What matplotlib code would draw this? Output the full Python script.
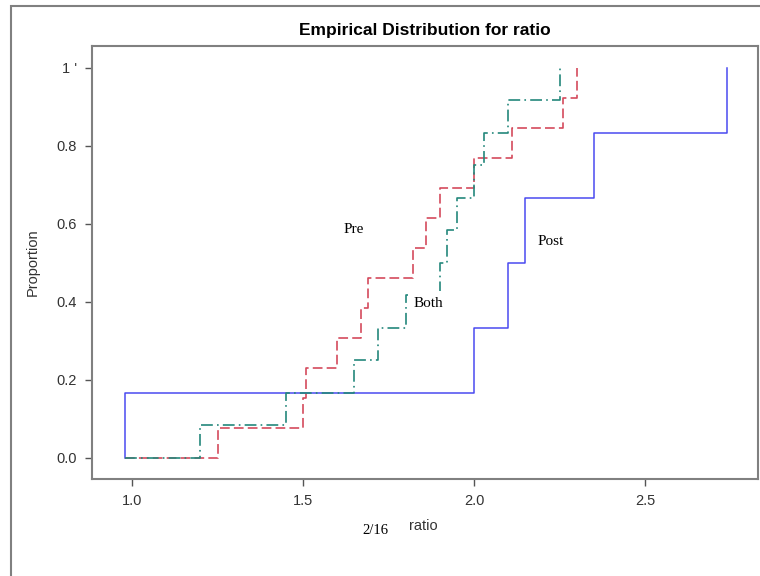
import numpy as np
import matplotlib
matplotlib.use("Agg")
import matplotlib.pyplot as plt
from matplotlib.patches import Rectangle

plt.rcParams['lines.scale_dashes'] = False

pre = [1.25, 1.5, 1.51, 1.6, 1.67, 1.69, 1.82, 1.86, 1.9, 2.0, 2.11, 2.26, 2.3]
both = [1.2, 1.45, 1.65, 1.72, 1.8, 1.9, 1.92, 1.95, 2.0, 2.03, 2.1, 2.25]
post = [0.98, 2.0, 2.1, 2.15, 2.35, 2.74]

xticks = [1.0, 1.5, 2.0, 2.5]
xticklabels = ["1.0", "1.5", "2.0", "2.5"]
yticks = [0.0, 0.2, 0.4, 0.6, 0.8, 1.0]
yticklabels = ["0.0", "0.2", "0.4", "0.6", "0.8", "1 '"]

sans = ['Liberation Sans Narrow', 'Liberation Sans', 'DejaVu Sans']
serif = ['Liberation Serif', 'DejaVu Serif']

xmin = min(pre + both + post)

def ecdf(vals):
    v = np.sort(np.array(vals))
    n = len(v)
    x = np.concatenate([[xmin], v])
    y = np.concatenate([[0.0], np.arange(1, n + 1) / n])
    return x, y

fig = plt.figure(figsize=(7.6, 5.76), dpi=100)
ax = fig.add_axes([92/760, 1 - 479/576, (758-92)/760, (479-46)/576])

# outer frame
fig.patches.append(Rectangle((11/760, -0.01), 1.0, 1 - 6/576 + 0.01, transform=fig.transFigure,
                             fill=False, edgecolor='#808080', linewidth=1.5))

x, y = ecdf(post)
ax.plot(x, y, drawstyle='steps-post', color='#4a4af0', lw=1.1)
x, y = ecdf(pre)
ax.plot(x, y, drawstyle='steps-post', color='#d44a5c', lw=1.2, dashes=(7, 3))
x, y = ecdf(both)
ax.plot(x, y, drawstyle='steps-post', color='#24887c', lw=1.2, dashes=(8.5, 3, 1.2, 3))

ax.text(1.649, 0.585, "Pre", family=serif, fontsize=11, ha='center', va='center')
ax.text(1.865, 0.397, "Both", family=serif, fontsize=11, ha='center', va='center', zorder=5,
        bbox=dict(facecolor='white', edgecolor='none', pad=4))
ax.text(2.225, 0.556, "Post", family=serif, fontsize=11, ha='center', va='center')

ax.set_xlim(0.883, 2.830)
ax.set_ylim(-0.054, 1.056)
ax.set_xticks(xticks)
ax.set_xticklabels(xticklabels, family=sans, fontsize=10.5, color='#333333')
ax.set_yticks(yticks)
ax.set_yticklabels(yticklabels, family=sans, fontsize=10.5, color='#333333')
ax.tick_params(direction='out', length=5, width=1, color='#555555', pad=6)
for s in ax.spines.values():
    s.set_color('#808080')
    s.set_linewidth(1.5)

ax.set_ylabel("Proportion", family=sans, fontsize=10.5, color='#333333', labelpad=12)
ax.set_title("Empirical Distribution for ratio", family=sans, fontsize=12.5, fontweight='bold', pad=8)
fig.text(423/760, 1 - 526/576, "ratio", family=sans, fontsize=10.5, color='#333333', ha='center', va='center')
fig.text(375/760, 1 - 530/576, "2/16", family=serif, fontsize=10.5, ha='center', va='center')

fig.savefig("out.png", dpi=100)
